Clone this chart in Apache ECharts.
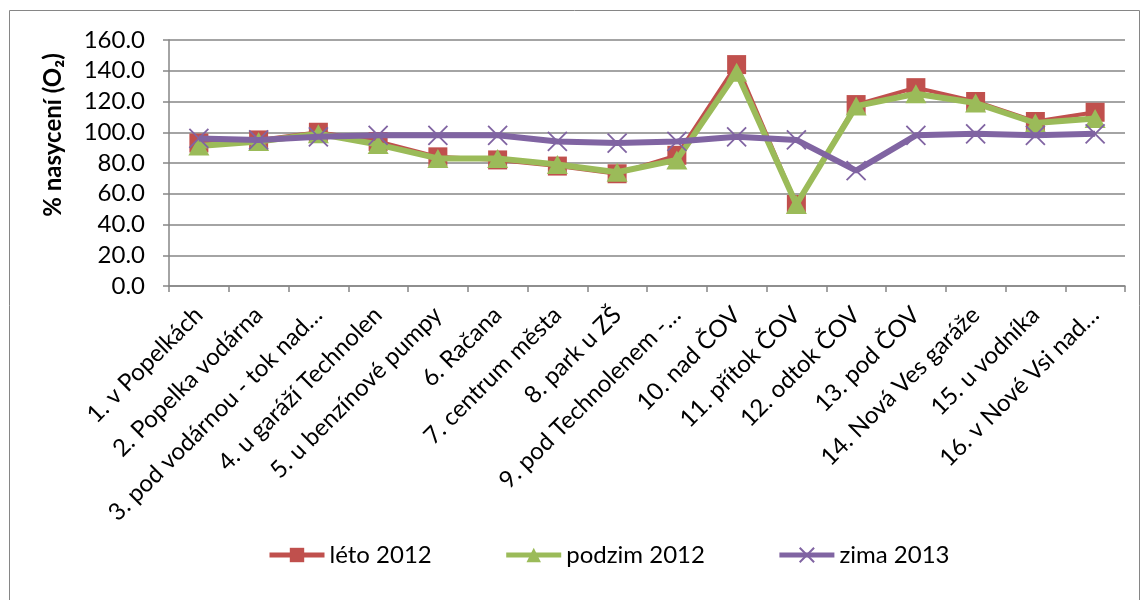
<!DOCTYPE html>
<html>
<head>
<meta charset="utf-8">
<script src="https://cdn.jsdelivr.net/npm/echarts@6/dist/echarts.min.js"></script>
<style>
  html, body { margin: 0; padding: 0; background: #ffffff; }
  #chart { width: 1142px; height: 600px; }
</style>
</head>
<body>
<div id="chart"></div>
<script>
// Odběrová místa (sampling sites along the stream)
const categories = [
  '1. v Popelkách',
  '2. Popelka vodárna',
  '3. pod vodárnou - tok nad…',
  '4. u garáží Technolen',
  '5. u benzínové pumpy',
  '6. Račana',
  '7. centrum města',
  '8. park u ZŠ',
  '9. pod Technolenem -…',
  '10. nad ČOV',
  '11. přítok ČOV',
  '12. odtok ČOV',
  '13. pod ČOV',
  '14. Nová Ves garáže',
  '15. u vodníka',
  '16. v Nové Vsi nad…'
];

// % nasycení kyslíkem per season
const leto2012   = [93, 95, 100, 94, 84, 82, 78, 73, 85, 144, 53, 118, 129, 120, 107, 113];
const podzim2012 = [91, 94, 99, 92, 83, 83, 79, 74, 82, 139, 53, 117, 125, 119, 106, 109];
const zima2013   = [96, 95, 97, 98, 98, 98, 94, 93, 94, 97, 95, 75, 98, 99, 98, 99];

const yTicks = { min: 0, max: 160, interval: 20 };

const FONT = 'Lato, "Open Sans", "DejaVu Sans", sans-serif';
const AXIS_GRAY = '#868686';

const chart = echarts.init(document.getElementById('chart'), null, { renderer: 'canvas' });

chart.setOption({
  animation: false,
  backgroundColor: '#ffffff',
  textStyle: { fontFamily: FONT, color: '#000000' },
  graphic: [
    {
      type: 'rect',
      shape: { x: 9.5, y: 10.5, width: 1130, height: 620 },
      style: { fill: 'none', stroke: AXIS_GRAY, lineWidth: 1 },
      silent: true
    },
    {
      type: 'text',
      x: 53,
      y: 135,
      rotation: Math.PI / 2,
      style: {
        text: '% nasycení (O₂)',
        font: 'bold 24px ' + FONT,
        fill: '#000000',
        align: 'center',
        verticalAlign: 'middle'
      },
      silent: true
    }
  ],
  grid: { left: 169, right: 17, top: 40, bottom: 314, containLabel: false },
  legend: {
    left: 262,
    top: 538,
    itemWidth: 55,
    itemHeight: 18,
    itemGap: 72,
    lineStyle: { width: 5 },
    textStyle: { fontFamily: FONT, fontSize: 24, color: '#000000' },
    data: ['léto 2012', 'podzim 2012', 'zima 2013']
  },
  xAxis: {
    type: 'category',
    data: categories,
    boundaryGap: true,
    axisLine: { lineStyle: { color: AXIS_GRAY, width: 1.5 } },
    axisTick: { show: true, alignWithLabel: false, length: 6, lineStyle: { color: AXIS_GRAY, width: 1.5 } },
    axisLabel: {
      rotate: 45,
      interval: 0,
      margin: 25,
      fontSize: 24,
      fontFamily: FONT,
      color: '#000000'
    },
    splitLine: { show: false }
  },
  yAxis: {
    type: 'value',
    min: yTicks.min,
    max: yTicks.max,
    interval: yTicks.interval,
    axisLine: { show: true, lineStyle: { color: AXIS_GRAY, width: 1.5 } },
    axisTick: { show: true, length: 6, lineStyle: { color: AXIS_GRAY, width: 1.5 } },
    axisLabel: {
      margin: 24,
      fontSize: 24,
      fontFamily: FONT,
      color: '#000000',
      formatter: v => v.toFixed(1)
    },
    splitLine: { show: true, lineStyle: { color: AXIS_GRAY, width: 1.5 } }
  },
  series: [
    {
      name: 'léto 2012',
      type: 'line',
      data: leto2012,
      symbol: 'rect',
      symbolSize: 19,
      z: 2,
      lineStyle: { color: '#C0504D', width: 4 },
      itemStyle: { color: '#C0504D' }
    },
    {
      name: 'podzim 2012',
      type: 'line',
      data: podzim2012,
      symbol: 'triangle',
      symbolSize: [21, 19],
      z: 3,
      lineStyle: { color: '#9BBB59', width: 6 },
      itemStyle: { color: '#9BBB59' }
    },
    {
      name: 'zima 2013',
      type: 'line',
      data: zima2013,
      symbol: 'path://M0,0L10,10M10,0L0,10',
      symbolSize: 19,
      z: 4,
      lineStyle: { color: '#8064A2', width: 6 },
      itemStyle: { color: 'rgba(0,0,0,0)', borderColor: '#8064A2', borderWidth: 1.8 }
    }
  ]
});
</script>
</body>
</html>
